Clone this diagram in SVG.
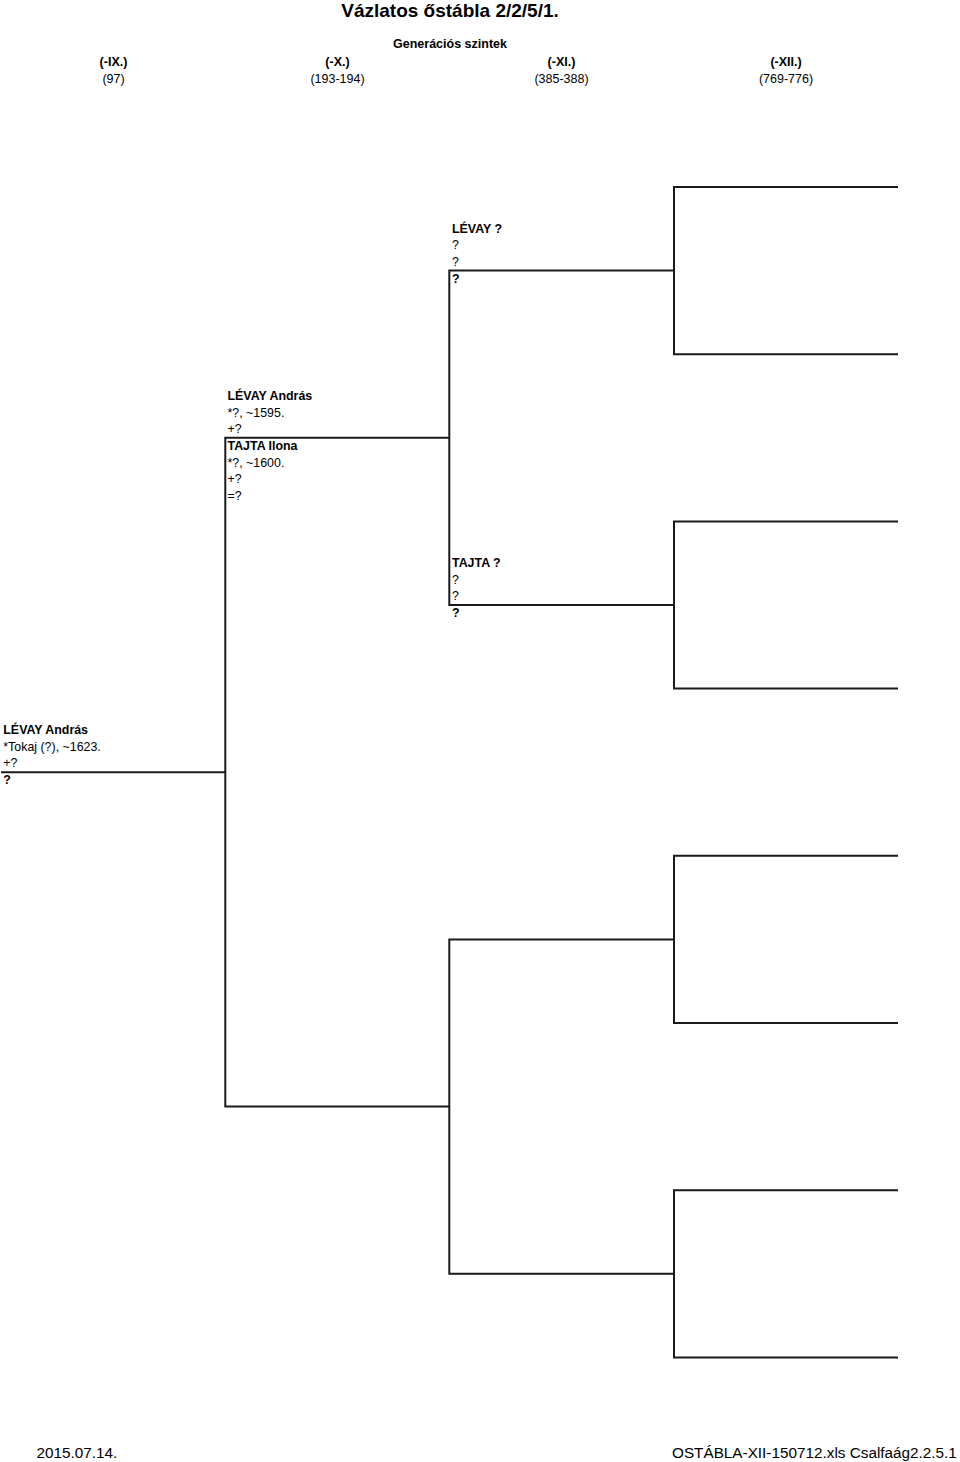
<svg xmlns="http://www.w3.org/2000/svg" width="960" height="1462" viewBox="0 0 960 1462">
<style>
text{font-family:"Liberation Sans",Arial,sans-serif;fill:#000}
.t{font-size:19px;font-weight:bold}
.h{font-size:12.5px;text-anchor:middle}
.b{font-weight:bold}
.p{font-size:12.4px}
.f{font-size:15.3px}
.ln{fill:none;stroke:#1a1a1a;stroke-width:2}
</style>
<rect width="960" height="1462" fill="#fff"/>
<g id="header">
<text class="t" x="450" y="16.7" text-anchor="middle">Vázlatos őstábla 2/2/5/1.</text>
<text class="h b" x="450" y="48">Generációs szintek</text>
<text class="h b" x="113.5" y="66">(-IX.)</text>
<text class="h" x="113.5" y="83">(97)</text>
<text class="h b" x="337.5" y="66">(-X.)</text>
<text class="h" x="337.5" y="83">(193-194)</text>
<text class="h b" x="561.5" y="66">(-XI.)</text>
<text class="h" x="561.5" y="83">(385-388)</text>
<text class="h b" x="786" y="66">(-XII.)</text>
<text class="h" x="786" y="83">(769-776)</text>
</g>
<g id="connectors">
<path class="ln" d="M1 772.2 H225.3"/>
<path class="ln" d="M449.3 437.8 H225.3 V1106.6 H449.3"/>
<path class="ln" d="M674 270.6 H449.3 V605 H674"/>
<path class="ln" d="M674 939.4 H449.3 V1273.8 H674"/>
<path class="ln" d="M898 187 H674 V354.2 H898"/>
<path class="ln" d="M898 521.4 H674 V688.6 H898"/>
<path class="ln" d="M898 855.8 H674 V1023 H898"/>
<path class="ln" d="M898 1190.2 H674 V1357.4 H898"/>
</g>
<g id="node-ix">
<text class="p b" x="3.3" y="734.2">LÉVAY András</text>
<text class="p" x="3.3" y="750.7">*Tokaj (?), ~1623.</text>
<text class="p" x="3.3" y="767.2">+?</text>
<text class="p b" x="3.3" y="784.2">?</text>
</g>
<g id="node-x">
<text class="p b" x="227.5" y="400">LÉVAY András</text>
<text class="p" x="227.5" y="416.5">*?, ~1595.</text>
<text class="p" x="227.5" y="433">+?</text>
<text class="p b" x="227.5" y="450">TAJTA Ilona</text>
<text class="p" x="227.5" y="466.5">*?, ~1600.</text>
<text class="p" x="227.5" y="483">+?</text>
<text class="p" x="227.5" y="499.5">=?</text>
</g>
<g id="node-xi-levay">
<text class="p b" x="452" y="232.6">LÉVAY ?</text>
<text class="p" x="452" y="249.1">?</text>
<text class="p" x="452" y="265.6">?</text>
<text class="p b" x="452" y="282.6">?</text>
</g>
<g id="node-xi-tajta">
<text class="p b" x="452" y="567">TAJTA ?</text>
<text class="p" x="452" y="583.5">?</text>
<text class="p" x="452" y="600">?</text>
<text class="p b" x="452" y="617">?</text>
</g>
<g id="footer">
<text class="f" x="36.5" y="1458.3">2015.07.14.</text>
<text class="f" x="672" y="1458.3">OSTÁBLA-XII-150712.xls Csalfaág2.2.5.1</text>
</g>
</svg>
